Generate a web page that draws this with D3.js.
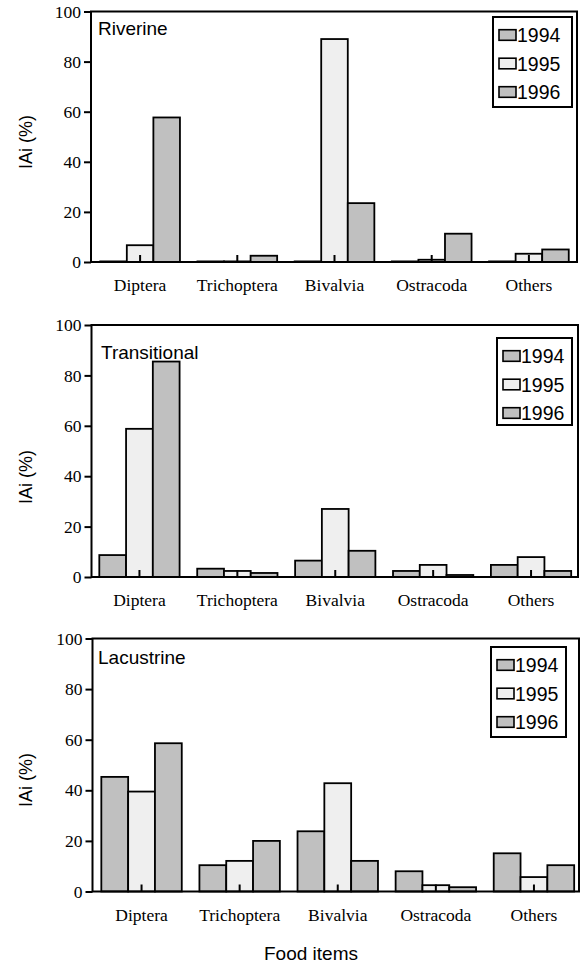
<!DOCTYPE html>
<html>
<head>
<meta charset="utf-8">
<script src="https://cdn.jsdelivr.net/npm/d3@7"></script>
<style>
  body { margin: 0; background: #fff; }
  .tick text { font-family: 'Liberation Serif', 'Times New Roman', serif; font-size: 17.5px; fill: #000; }
  .tick line { stroke: #000; stroke-width: 2; }
  .sans { font-family: 'Liberation Sans', Arial, sans-serif; fill: #000; }
</style>
</head>
<body>
<svg width="584" height="965"></svg>
<script>
const categories = ['Diptera', 'Trichoptera', 'Bivalvia', 'Ostracoda', 'Others'];
const years = ['1994', '1995', '1996'];
const yTicks = [0, 20, 40, 60, 80, 100];

const riverine1994 = [0, 0, 0, 0, 0];
const riverine1995 = [6.7, 0, 89, 0.9, 3.3];
const riverine1996 = [57.7, 2.5, 23.5, 11.3, 5];

const transitional1994 = [8.7, 3.3, 6.5, 2.4, 4.8];
const transitional1995 = [58.8, 2.4, 27, 4.8, 7.9];
const transitional1996 = [85.5, 1.6, 10.4, 0.8, 2.4];

const lacustrine1994 = [45.3, 10.4, 23.8, 8, 15.1];
const lacustrine1995 = [39.5, 12.1, 42.8, 2.5, 5.7];
const lacustrine1996 = [58.6, 20, 12.1, 1.7, 10.4];

const yearColors = ['#c0c0c0', '#efefef', '#c0c0c0'];

const svg = d3.select('svg');

const panels = [
    { title: 'Riverine', series: [riverine1994, riverine1995, riverine1996],
      left: 91, right: 577, top: 11.5, bottom: 262, band: [91.5, 577.5],
      titleX: 98, titleY: 35, legend: { x: 493, y: 17, w: 79, h: 90 }, labelY: 142 },
    { title: 'Transitional', series: [transitional1994, transitional1995, transitional1996],
      left: 91.5, right: 578, top: 325, bottom: 577, band: [90.5, 580],
      titleX: 101, titleY: 358.5, legend: { x: 497, y: 338, w: 75, h: 87 }, labelY: 477 },
    { title: 'Lacustrine', series: [lacustrine1994, lacustrine1995, lacustrine1996],
      left: 92.5, right: 579, top: 638.5, bottom: 891.5, band: [92.5, 583],
      titleX: 98, titleY: 664, legend: { x: 491, y: 647, w: 75, h: 90 }, labelY: 780 }
];

panels.forEach(p => {
    const g = svg.append('g');

    const x0 = d3.scaleBand()
        .domain(categories)
        .range(p.band)
        .paddingInner(0.18)
        .paddingOuter(0.09);

    const x1 = d3.scaleBand()
        .domain(years)
        .range([0, x0.bandwidth()]);

    const y = d3.scaleLinear()
        .domain([0, 100])
        .range([p.bottom, p.top]);

    // bars (zero values still show as an outline on the baseline)
    const rows = categories.map((c, i) => ({
        category: c,
        values: years.map((yr, j) => ({ year: yr, j, value: p.series[j][i] }))
    }));

    g.selectAll('.group').data(rows)
        .enter().append('g')
        .attr('class', 'group')
        .attr('transform', d => `translate(${x0(d.category)},0)`)
        .selectAll('rect').data(d => d.values)
        .enter().append('rect')
        .attr('x', d => x1(d.year))
        .attr('width', x1.bandwidth())
        .attr('y', d => Math.min(y(d.value), y(0) - 0.6))
        .attr('height', d => Math.max(y(0) - y(d.value), 0.6))
        .attr('fill', d => yearColors[d.j])
        .attr('stroke', '#000')
        .attr('stroke-width', 1.8);

    // frame
    g.append('rect')
        .attr('x', p.left)
        .attr('y', p.top)
        .attr('width', p.right - p.left)
        .attr('height', p.bottom - p.top)
        .attr('fill', 'none')
        .attr('stroke', '#000')
        .attr('stroke-width', 2);

    const yAxis = d3.axisLeft(y)
        .tickValues(yTicks)
        .tickSize(7)
        .tickPadding(3);

    const yAxisG = g.append('g')
        .attr('transform', `translate(${p.left},0)`)
        .call(yAxis);
    yAxisG.select('.domain').remove();

    const xAxis = d3.axisBottom(x0)
        .tickSize(-7)
        .tickPadding(17);

    const xAxisG = g.append('g')
        .attr('transform', `translate(0,${p.bottom})`)
        .call(xAxis);
    xAxisG.select('.domain').remove();

    g.append('text')
        .attr('class', 'sans')
        .attr('x', p.titleX)
        .attr('y', p.titleY)
        .style('font-size', '19px')
        .text(p.title);

    g.append('text')
        .attr('class', 'sans')
        .attr('transform', `translate(26,${p.labelY}) rotate(-90)`)
        .attr('text-anchor', 'middle')
        .attr('dy', '0.35em')
        .style('font-size', '18px')
        .text('IAi (%)');

    // legend
    const lg = g.append('g');
    lg.append('rect')
        .attr('x', p.legend.x)
        .attr('y', p.legend.y)
        .attr('width', p.legend.w)
        .attr('height', p.legend.h)
        .attr('fill', '#fff')
        .attr('stroke', '#000')
        .attr('stroke-width', 2);

    const item = lg.selectAll('.item').data(years)
        .enter().append('g')
        .attr('class', 'item')
        .attr('transform', (d, i) => `translate(${p.legend.x + 6},${p.legend.y + 18 + i * 28.5})`);

    item.append('rect')
        .attr('x', 0)
        .attr('y', -5.3)
        .attr('width', 17)
        .attr('height', 10.6)
        .attr('fill', (d, i) => yearColors[i])
        .attr('stroke', '#000')
        .attr('stroke-width', 1.6);

    item.append('text')
        .attr('class', 'sans')
        .attr('x', 18)
        .attr('dy', '0.36em')
        .style('font-size', '19.5px')
        .text(d => d);
});

svg.append('text')
    .attr('class', 'sans')
    .attr('x', 311)
    .attr('y', 953)
    .attr('text-anchor', 'middle')
    .attr('dy', '0.35em')
    .style('font-size', '19px')
    .text('Food items');
</script>
</body>
</html>
